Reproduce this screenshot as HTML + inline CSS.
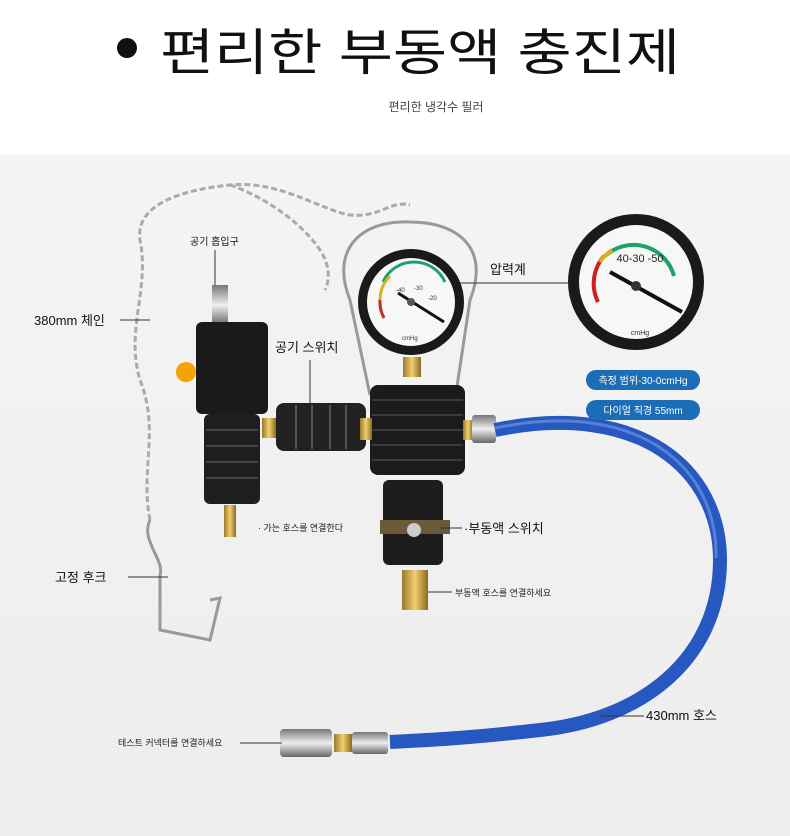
<!DOCTYPE html>
<html><head><meta charset="utf-8"><style>
html,body{margin:0;padding:0;width:790px;height:836px;overflow:hidden;background:#fff;font-family:"Liberation Sans","Noto Sans CJK KR",sans-serif}
svg text{font-family:"Liberation Sans","Noto Sans CJK KR",sans-serif}
</style></head><body>
<svg width="790" height="836" viewBox="0 0 790 836" xmlns="http://www.w3.org/2000/svg">
<defs>
<linearGradient id="bg" x1="0" y1="0" x2="0" y2="1"><stop offset="0" stop-color="#f4f4f4"/><stop offset="1" stop-color="#ededed"/></linearGradient>
<linearGradient id="brass" x1="0" y1="0" x2="1" y2="0"><stop offset="0" stop-color="#9a7a2a"/><stop offset=".5" stop-color="#f0d070"/><stop offset="1" stop-color="#8a6a20"/></linearGradient>
<linearGradient id="chrome" x1="0" y1="0" x2="0" y2="1"><stop offset="0" stop-color="#777"/><stop offset=".5" stop-color="#eee"/><stop offset="1" stop-color="#666"/></linearGradient>
</defs>
<rect x="0" y="0" width="790" height="155" fill="#fff"/>
<rect x="0" y="155" width="790" height="681" fill="url(#bg)"/>
<circle cx="127" cy="48" r="10" fill="#111"/>
<text x="160" y="70" font-size="50" fill="#111" textLength="520" lengthAdjust="spacingAndGlyphs">편리한 부동액 충진제</text>
<text x="436" y="111" font-size="12" fill="#444" text-anchor="middle">편리한 냉각수 필러</text>

<g fill="none" stroke="#aaa" stroke-width="3">
<path d="M150 520 C140 470 160 430 140 380 C125 330 150 290 140 240 C135 205 180 190 230 185 C280 180 320 210 350 215 C380 218 390 200 410 205" stroke-dasharray="6 3"/>
<path d="M230 185 C260 195 300 220 320 250 C330 265 330 280 325 290" stroke-dasharray="6 3"/>
</g>
<path d="M150 520 C140 540 165 560 160 575 L160 630 L210 640 L220 598 L210 600" fill="none" stroke="#999" stroke-width="3"/>

<rect x="212" y="285" width="16" height="40" fill="url(#chrome)"/>
<rect x="196" y="322" width="72" height="92" rx="6" fill="#1a1a1a"/>
<rect x="204" y="414" width="56" height="90" rx="6" fill="#1e1e1e"/>
<g stroke="#444" stroke-width="2"><line x1="206" y1="430" x2="258" y2="430"/><line x1="206" y1="446" x2="258" y2="446"/><line x1="206" y1="462" x2="258" y2="462"/><line x1="206" y1="478" x2="258" y2="478"/></g>
<circle cx="186" cy="372" r="10" fill="#f5a300"/>
<rect x="224" y="505" width="12" height="32" fill="url(#brass)"/>
<rect x="262" y="418" width="14" height="20" fill="url(#brass)"/>
<rect x="276" y="403" width="90" height="48" rx="8" fill="#222"/>
<g stroke="#555" stroke-width="2"><line x1="296" y1="405" x2="296" y2="449"/><line x1="312" y1="405" x2="312" y2="449"/><line x1="330" y1="405" x2="330" y2="449"/><line x1="346" y1="405" x2="346" y2="449"/></g>

<path d="M350 300 C330 250 360 220 410 222 C460 222 490 250 470 300 L455 400" fill="none" stroke="#999" stroke-width="3"/>
<path d="M350 300 L370 395" fill="none" stroke="#999" stroke-width="3"/>
<circle cx="411" cy="302" r="53" fill="#1a1a1a"/>
<circle cx="411" cy="302" r="44" fill="#f7f7f7"/>
<path d="M383 282 A34 34 0 0 1 445 282" fill="none" stroke="#1ba36a" stroke-width="3"/>
<path d="M380 300 A34 34 0 0 1 390 276" fill="none" stroke="#d9b020" stroke-width="3"/>
<path d="M384 318 A34 34 0 0 1 380 300" fill="none" stroke="#c03020" stroke-width="3"/>
<g font-size="6" fill="#333"><text x="396" y="292">-40</text><text x="414" y="290">-30</text><text x="428" y="300">-20</text><text x="402" y="340">cmHg</text></g>
<line x1="398" y1="293" x2="444" y2="322" stroke="#111" stroke-width="3"/>
<circle cx="411" cy="302" r="4" fill="#555"/>
<rect x="403" y="357" width="18" height="20" fill="url(#brass)"/>
<rect x="370" y="385" width="95" height="90" rx="8" fill="#1b1b1b"/>
<g stroke="#3a3a3a" stroke-width="2"><line x1="372" y1="400" x2="463" y2="400"/><line x1="372" y1="415" x2="463" y2="415"/><line x1="372" y1="430" x2="463" y2="430"/><line x1="372" y1="445" x2="463" y2="445"/><line x1="372" y1="460" x2="463" y2="460"/></g>
<rect x="360" y="418" width="12" height="22" fill="url(#brass)"/>
<rect x="463" y="420" width="10" height="20" fill="url(#brass)"/>
<rect x="472" y="415" width="24" height="28" rx="3" fill="url(#chrome)"/>
<rect x="383" y="480" width="60" height="85" rx="6" fill="#1d1d1d"/>
<rect x="380" y="520" width="70" height="14" fill="#6a5a3a"/>
<circle cx="414" cy="530" r="7" fill="#ccc"/>
<rect x="402" y="570" width="26" height="40" fill="url(#brass)"/>

<path d="M495 430 C640 400 720 470 720 560 C720 660 640 720 540 730 C470 738 430 740 390 742" fill="none" stroke="#2757c0" stroke-width="14"/>
<path d="M495 428 C640 398 718 468 716 558" fill="none" stroke="#7a9ce0" stroke-width="3" opacity=".6"/>
<rect x="352" y="732" width="36" height="22" rx="3" fill="url(#chrome)"/>
<rect x="334" y="734" width="18" height="18" fill="url(#brass)"/>
<rect x="280" y="729" width="52" height="28" rx="4" fill="url(#chrome)"/>

<circle cx="636" cy="282" r="68" fill="#1a1a1a"/>
<circle cx="636" cy="282" r="57" fill="#f7f7f7"/>
<path d="M605 256 A42 42 0 0 1 674 276" fill="none" stroke="#1ba36a" stroke-width="4"/>
<path d="M598 302 A42 42 0 0 1 604 256" fill="none" stroke="#d02020" stroke-width="4"/>
<path d="M600 262 A42 42 0 0 1 612 250" fill="none" stroke="#d9b020" stroke-width="4"/>
<line x1="610" y1="272" x2="682" y2="312" stroke="#111" stroke-width="4"/>
<circle cx="636" cy="286" r="5" fill="#333"/>
<text x="640" y="262" font-size="11" fill="#222" text-anchor="middle">40-30 -50</text>
<text x="640" y="335" font-size="7" fill="#333" text-anchor="middle">cmHg</text>

<g font-size="13" fill="#111">
<text x="190" y="245" font-size="10">공기 흡입구</text>
<text x="34" y="325">380mm 체인</text>
<text x="275" y="352">공기 스위치</text>
<text x="490" y="274">압력계</text>
<text x="55" y="582">고정 후크</text>
<text x="464" y="533">·부동액 스위치</text>
<text x="646" y="720">430mm 호스</text>
</g>
<g font-size="9" fill="#222">
<text x="258" y="531">· 가는 호스를 연결한다</text>
<text x="455" y="596">부동액 호스를 연결하세요</text>
<text x="118" y="746">테스트 커넥터를 연결하세요</text>
</g>
<g stroke="#333" stroke-width="1">
<line x1="215" y1="250" x2="215" y2="285"/>
<line x1="120" y1="320" x2="150" y2="320"/>
<line x1="310" y1="360" x2="310" y2="405"/>
<line x1="460" y1="283" x2="568" y2="283"/>
<line x1="128" y1="577" x2="168" y2="577"/>
<line x1="440" y1="528" x2="462" y2="528"/>
<line x1="428" y1="592" x2="452" y2="592"/>
<line x1="600" y1="716" x2="644" y2="716"/>
<line x1="240" y1="743" x2="282" y2="743"/>
</g>
<rect x="586" y="370" width="114" height="20" rx="10" fill="#1b6db7"/>
<text x="643" y="384" font-size="10" fill="#fff" text-anchor="middle">측정 범위-30-0cmHg</text>
<rect x="586" y="400" width="114" height="20" rx="10" fill="#1b6db7"/>
<text x="643" y="414" font-size="10" fill="#fff" text-anchor="middle">다이얼 직경 55mm</text>
</svg>
</body></html>
